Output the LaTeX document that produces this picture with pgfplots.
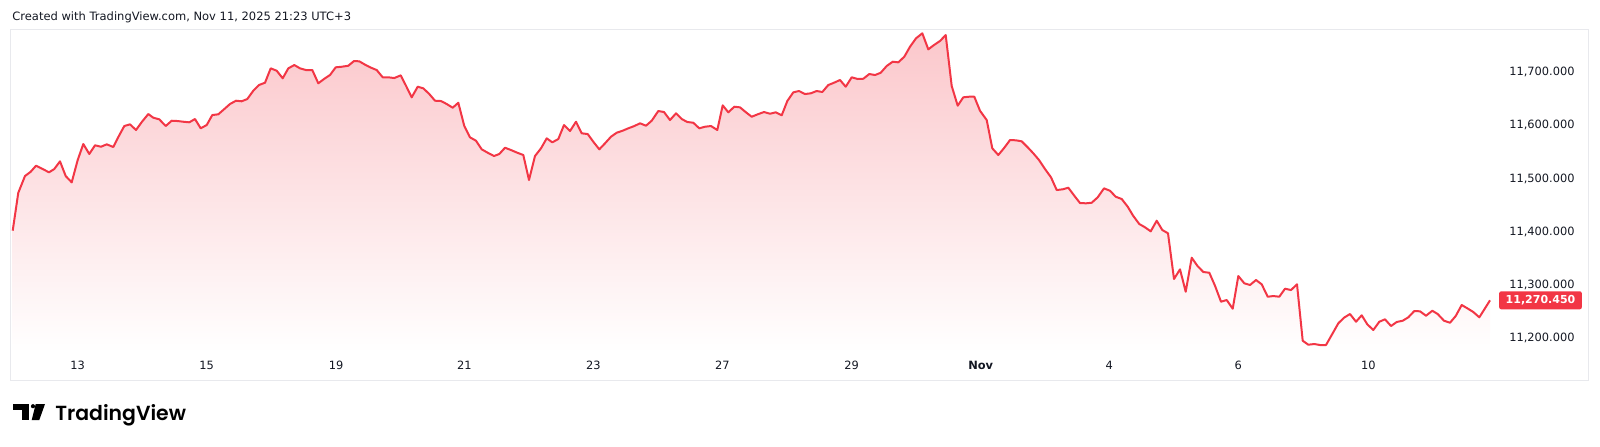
\documentclass[border=0pt]{standalone}
\usepackage{fontspec}
\setmainfont{DejaVu Sans}
\newfontfamily\logofont{Poppins SemiBold}
\usepackage{pgfplots}
\usepackage{pgfplotstable}
\pgfplotsset{compat=1.18}
\definecolor{linecol}{HTML}{F23645}
\definecolor{areatop}{RGB}{251,199,203}
\definecolor{txtcol}{HTML}{131722}
\definecolor{framecol}{RGB}{232,233,237}
\pgfdeclareverticalshading{areashade}{100bp}{color(0bp)=(white); color(25bp)=(white); color(29bp)=(white); color(75bp)=(areatop); color(100bp)=(areatop)}
\pgfplotstableread{
x y
12.7 11401.6
18.3 11473.2
25 11504.6
30.7 11512.7
36 11524.0
42.7 11517.8
49 11511.6
54.3 11517.8
60 11532.3
65.7 11504.6
71.7 11492.7
77.7 11534.8
83.3 11564.9
89.3 11546.1
95 11562.5
101 11559.8
106.7 11564.3
113.3 11559.3
119 11580.5
124.3 11598.8
130 11602.0
136 11591.3
142 11606.9
148.3 11621.4
153.3 11614.5
159.3 11611.4
165.7 11598.8
171.7 11608.8
177.7 11608.2
183.3 11606.9
189.3 11605.8
195 11612.0
200.7 11594.5
206.7 11600.7
212.3 11619.5
218.3 11620.9
224 11630.3
230 11640.3
236 11646.5
241.7 11645.4
247.3 11649.7
253.3 11665.3
259 11676.1
265 11680.4
270.7 11707.5
276.7 11703.0
282.7 11688.7
288.3 11707.5
294.3 11713.7
300 11707.5
306 11704.3
312.3 11704.3
318.3 11679.3
324 11687.4
330 11694.9
335.7 11709.4
341.7 11710.5
348.3 11712.4
354 11721.3
359.3 11720.7
365.7 11713.7
371 11708.7
376.7 11704.3
382.7 11690.6
388.3 11690.6
394.3 11689.2
400.7 11694.3
406 11674.7
411.7 11652.9
417.7 11672.9
423.3 11669.8
429.3 11659.1
435 11646.5
441 11645.9
446.7 11640.3
452.7 11633.3
458.3 11642.7
464.3 11598.8
470 11577.5
476 11571.1
481.7 11554.9
487.7 11548.5
494 11542.3
499.3 11546.1
505 11557.9
511 11553.6
517.3 11548.5
523.3 11544.2
529 11497.1
535 11542.3
541 11556.8
546.7 11575.6
552.3 11568.1
558.3 11574.3
564 11600.7
570 11589.4
576 11606.9
581.7 11585.1
587.7 11583.7
593.3 11569.2
599.3 11554.9
605 11566.2
611 11578.7
616.7 11586.2
622.7 11590.0
628.3 11594.5
634.3 11598.8
640 11603.9
646 11599.4
651.7 11608.8
658.3 11627.1
664 11625.2
670 11610.1
676 11622.7
681.7 11612.0
687.3 11606.4
693.3 11605.0
699.3 11594.5
705 11597.5
711 11598.8
717.3 11591.3
722.7 11637.8
728.3 11624.6
734.3 11635.2
740 11634.0
746 11624.6
751.7 11616.3
757.7 11620.9
764 11625.2
770 11622.0
775.7 11624.6
781.7 11619.0
787.3 11645.9
793.3 11662.3
799 11664.8
805 11659.1
810.7 11660.4
816.7 11664.8
822.3 11662.9
828.3 11676.1
834 11680.4
840 11685.5
845.7 11672.9
851.7 11690.6
857.7 11687.4
863.3 11687.9
869.3 11696.8
875 11694.9
880.7 11699.2
886.7 11711.9
892.7 11720.0
898.3 11718.8
904.3 11729.4
910 11748.2
916 11764.0
922.3 11773.5
928.3 11743.3
934 11751.4
940 11759.0
945.7 11770.3
951.7 11674.2
957.7 11637.1
963.3 11652.9
969 11654.0
974.3 11654.0
980 11627.6
986.7 11610.1
992.3 11556.8
998.3 11544.2
1004.3 11557.9
1010 11572.4
1016 11571.9
1021.7 11570.0
1027.7 11558.7
1033.3 11547.4
1039 11534.8
1045 11517.8
1051 11502.2
1056.7 11478.2
1062.7 11479.6
1068.3 11482.6
1074.3 11467.5
1080 11453.7
1086 11453.2
1091.7 11454.3
1097.7 11464.5
1104 11481.4
1110 11476.9
1115.7 11465.6
1121.7 11461.3
1127.7 11446.8
1133.3 11429.3
1139.3 11414.2
1145 11408.0
1150.7 11400.4
1156.7 11420.4
1162.3 11402.9
1168 11396.7
1174 11310.6
1180 11328.8
1185.7 11286.6
1191.7 11350.7
1197.3 11335.6
1203.3 11323.8
1209.3 11322.4
1215 11297.9
1221 11267.8
1226.7 11271.0
1232.7 11254.6
1238.3 11316.2
1244.3 11302.5
1250 11299.3
1256 11308.7
1261.7 11300.6
1267.7 11277.2
1273.3 11278.5
1279.3 11277.2
1285 11292.3
1291 11289.8
1297 11300.6
1302.7 11194.3
1308.3 11186.8
1314.3 11188.1
1320 11186.2
1326 11186.2
1331.7 11205.1
1338.3 11227.1
1344 11237.7
1350 11244.6
1356 11230.1
1361.7 11242.2
1367.3 11225.2
1373.3 11214.5
1379.3 11230.1
1385 11234.6
1391 11222.0
1396.7 11229.6
1402.7 11232.0
1408.3 11238.4
1414.3 11250.3
1420 11249.7
1426 11241.4
1432.3 11250.8
1437.7 11244.6
1444 11232.0
1450 11228.2
1455.7 11240.9
1461.7 11261.6
1467.3 11255.4
1473.3 11248.4
1479.3 11238.4
1485 11255.4
1490 11270.45
}\pricedata
\begin{document}
\begin{tikzpicture}
\useasboundingbox (0,0) rectangle (800pt,223pt);
% header
\node[anchor=base west, inner sep=0pt, text=txtcol, font=\fontsize{5.75pt}{7pt}\selectfont] at (6pt,212.65pt) {Created with TradingView.com, Nov 11, 2025 21:23 UTC+3};
\begin{axis}[
  at={(5.5pt,33pt)}, anchor=south west,
  scale only axis, width=788.5pt, height=175.5pt,
  xmin=11, xmax=1588, ymin=11120.3, ymax=11781.6,
  axis on top,
  axis line style={draw=framecol, line width=0.5pt},
  major tick length=0pt,
  xtick={77.7,206.7,336,464.3,593.3,722.3,851.7,980.7,1109.3,1238.3,1368.3},
  xticklabels={13,15,19,21,23,27,29,\textbf{Nov},4,6,10},
  ytick={11200,11300,11400,11500,11600,11700},
  scaled y ticks=false,
  yticklabel pos=right,
  /pgf/number format/fixed,
  /pgf/number format/fixed zerofill,
  /pgf/number format/precision=3,
  /pgf/number format/1000 sep={,},
  /pgf/number format/assume math mode=true,
  yticklabel style={anchor=east, inner sep=0pt, xshift=-6.5pt, text=txtcol,
     font=\fontsize{5.7pt}{7pt}\selectfont},
  xticklabel style={anchor=center, inner sep=0pt, yshift=7.5pt, text=txtcol,
     font=\fontsize{5.7pt}{7pt}\selectfont},
]
\addplot[draw=none, shading=areashade, forget plot] table[x=x,y=y] {\pricedata} \closedcycle;
\addplot[linecol, line width=1pt, line join=round] table[x=x,y=y] {\pricedata};
\node[fill=linecol, text=white, rounded corners=1pt, minimum width=41.3pt, minimum height=9pt, inner sep=0pt,
  font=\fontsize{5.5pt}{7pt}\selectfont\bfseries] at (axis cs:1540.5,11270.45) {11,270.450};
\end{axis}
% logo
\fill[black] (6.65pt,18pt) rectangle (14.5pt,21pt);
\fill[black] (10.85pt,13pt) rectangle (14.5pt,21pt);
\fill[black] (16.5pt,19.9pt) circle (1.05pt);
\fill[black] (17.85pt,21pt) -- (22.5pt,21pt) -- (19.65pt,13pt) -- (15.85pt,13pt) -- cycle;
\node[anchor=base west, inner sep=0pt, text=black, font=\logofont\fontsize{10.2pt}{12pt}\selectfont] at (27.5pt,12.65pt) {TradingView};
\end{tikzpicture}
\end{document}
